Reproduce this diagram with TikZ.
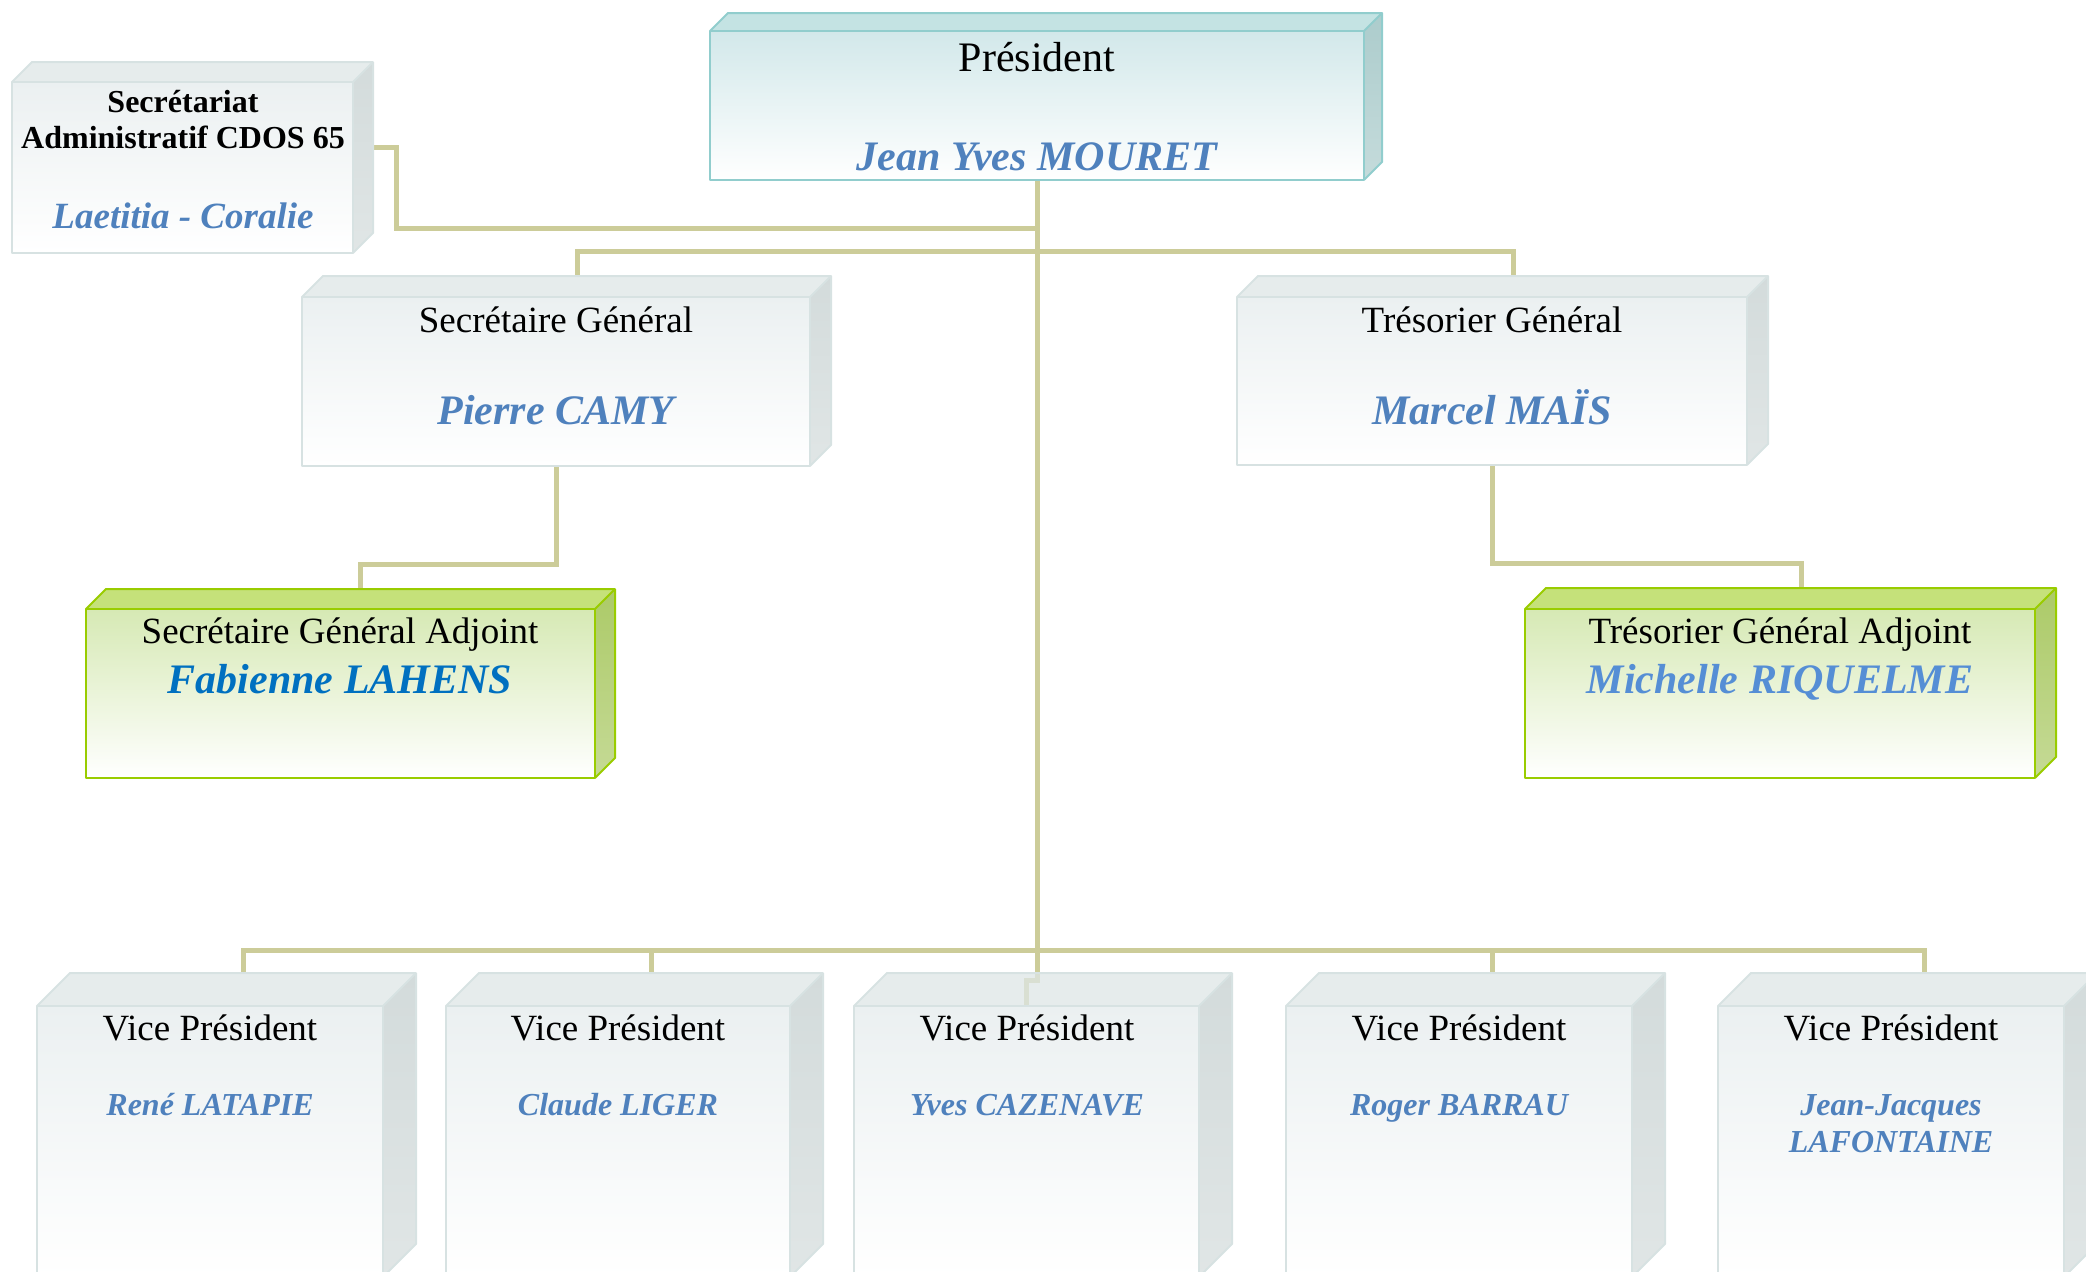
\documentclass[tikz,border=0pt]{standalone}
\usepackage{fontspec}
\setmainfont{Liberation Serif}
\usetikzlibrary{calc,positioning,backgrounds}

\definecolor{kaki}{RGB}{204,204,153}
\definecolor{presface}{RGB}{210,232,234}
\definecolor{presdessus}{RGB}{176,218,218}
\definecolor{prescote}{RGB}{172,204,204}
\definecolor{prestrait}{RGB}{145,205,205}
\definecolor{grisface}{RGB}{235,240,241}
\definecolor{grisdessus}{RGB}{222,230,230}
\definecolor{griscote}{RGB}{211,219,219}
\definecolor{gristrait}{RGB}{215,226,226}
\definecolor{vertface}{RGB}{214,233,180}
\definecolor{vertdessus}{RGB}{178,215,78}
\definecolor{vertcote}{RGB}{172,202,104}
\definecolor{verttrait}{RGB}{153,204,0}
\definecolor{bleunom}{RGB}{79,129,189}
\definecolor{bleufonce}{RGB}{0,112,192}
\definecolor{bleuclair}{RGB}{85,142,213}

% #1 nom, #2 gauche, #3 haut, #4 droite, #5 bas, #6 profondeur, #7 teinte
\newcommand{\boite}[7]{%
  \shade[top color=#7face, bottom color=white] (#2,#3) rectangle (#4,#5);
  \fill[#7dessus, fill opacity=0.75] (#2,#3) -- ({#2+#6},{#3-#6})
    -- ({#4+#6},{#3-#6}) -- (#4,#3) -- cycle;
  \shade[top color=#7cote, bottom color=#7cote!70!white] (#4,#3)
    -- ({#4+#6},{#3-#6}) -- ({#4+#6},{#5-#6}) -- (#4,#5) -- cycle;
  \draw[#7trait, line width=1pt, line join=round] (#2,#3) rectangle (#4,#5);
  \draw[#7trait, line width=1pt, line join=round] (#2,#3) -- ({#2+#6},{#3-#6})
    -- ({#4+#6},{#3-#6}) -- ({#4+#6},{#5-#6}) -- (#4,#5);
  \draw[#7trait, line width=1pt] (#4,#3) -- ({#4+#6},{#3-#6});
  \coordinate (#1-n) at ({(#2+#4)/2+#6},{#3-#6});
  \coordinate (#1-f) at ({(#2+#4)/2},#3);
  \coordinate (#1-s) at ({(#2+#4)/2},#5);
}

\tikzset{
  liaison/.style={draw=kaki, line width=2.5pt},
  titre/.style={anchor=base, inner sep=0pt, font=\fontsize{18.5}{22}\selectfont},
  grandtitre/.style={titre, font=\fontsize{21}{25}\selectfont},
  titregras/.style={titre, font=\fontsize{16}{19}\selectfont\bfseries},
  nom/.style={anchor=base, inner sep=0pt, text=bleunom,
    font=\fontsize{21}{25}\selectfont\bfseries\itshape},
  petitnom/.style={nom, font=\fontsize{16}{19}\selectfont\bfseries\itshape}
}

\begin{document}
\begin{tikzpicture}[x=0.5pt,y=-0.5pt]
  \useasboundingbox (0,0) rectangle (2086,1271);
  % les boites
  \boite{pres}{710}{31}{1364}{180}{18}{pres}
  \boite{secr}{12}{82}{353}{253}{20}{gris}
  \boite{sg}{302}{297}{810}{466}{21}{gris}
  \boite{tg}{1237}{297}{1747}{465}{21}{gris}
  \boite{sga}{86}{609}{595}{778}{20}{vert}
  \boite{tga}{1525}{609}{2035}{778}{21}{vert}
  \foreach \n/\g/\d in {1/37/383,2/446/790,3/854/1199,4/1286/1632,5/1718/2064}
    {\boite{vp\n}{\g}{1006}{\d}{1277}{33}{gris}}
  % les textes
  \node (pres-titre) [grandtitre] at (1037,71) {Président};
  \node (pres-nom) [nom] at (1037,170) {Jean Yves MOURET};
  \node (secr-titre1) [titregras] at (183,112) {Secrétariat};
  \node (secr-titre2) [titregras] at (183,148) {Administratif CDOS 65};
  \node (secr-nom) [nom, font=\fontsize{18.5}{22}\selectfont\bfseries\itshape]
    at (183,228) {Laetitia - Coralie};
  \node (sg-titre) [titre] at (556,332) {Secrétaire Général};
  \node (sg-nom) [nom] at (556,424) {Pierre CAMY};
  \node (tg-titre) [titre] at (1492,332) {Trésorier Général};
  \node (tg-nom) [nom] at (1492,424) {Marcel MAÏS};
  \node (sga-titre) [titre] at (340,643) {Secrétaire Général Adjoint};
  \node (sga-nom) [nom, text=bleufonce] at (340,693) {Fabienne LAHENS};
  \node (tga-titre) [titre] at (1780,643) {Trésorier Général Adjoint};
  \node (tga-nom) [nom, text=bleuclair] at (1780,693) {Michelle RIQUELME};
  \foreach \n/\x/\qui in {1/210/René LATAPIE,2/618/Claude LIGER,
    3/1027/Yves CAZENAVE,4/1459/Roger BARRAU,5/1891/Jean-Jacques}{
    \node (vp\n-titre) [titre] at (\x,1040) {Vice Président};
    \node (vp\n-nom) [petitnom] at (\x,1115) {\qui};
  }
  \node (vp5-nom2) [petitnom] at (1891,1152) {LAFONTAINE};
  % les liaisons, sous les boites
  \begin{pgfonlayer}{background}
    \coordinate (croix) at (1037,228);
    \coordinate (coude) at (1037,980);
    \coordinate (secr-e) at (353,147);
    \draw[liaison] (pres-s) -- (coude) -| (vp3-f);
    \draw[liaison] (secr-e) -- ++(43,0) |- (croix);
    \draw[liaison] (sg-n) -- ++(0,-25) -| (tg-n);
    \draw[liaison] (sg-s) -- ++(0,98) -| (sga-n);
    \draw[liaison] (tg-s) -- ++(0,98) -| (tga-n);
    \draw[liaison] (vp1-n) -- ++(0,-23) -| (vp5-n);
    \draw[liaison] (vp2-n) -- ++(0,-23);
    \draw[liaison] (vp4-n) -- ++(0,-23);
  \end{pgfonlayer}
\end{tikzpicture}
\end{document}
